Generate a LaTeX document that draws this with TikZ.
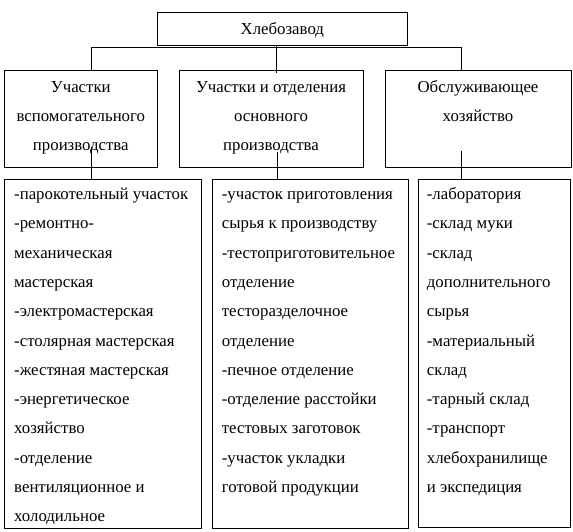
\documentclass[tikz,border=0pt]{standalone}
\usepackage{fontspec}
\setmainfont{Liberation Serif}
\begin{document}
\begin{tikzpicture}[x=1pt,y=-1pt,
  box/.style={draw, line width=1pt, inner sep=0pt, anchor=north west},
  txt/.style={inner sep=0pt, font=\fontsize{16.8}{20}\selectfont},
  conn/.style={line width=1pt}]
\useasboundingbox (0,0) rectangle (573,531);
% boxes
\node[box, minimum width=250pt, minimum height=32.7pt] (top) at (157.3,12.3) {};
\node[box, minimum width=153pt, minimum height=96.7pt] (b1) at (4.3,70) {};
\node[box, minimum width=184.6pt, minimum height=96.7pt] (b2) at (178.7,70) {};
\node[box, minimum width=186pt, minimum height=96.7pt] (b3) at (385,70) {};
\node[box, minimum width=196.7pt, minimum height=348.4pt] (c1) at (4.3,179.3) {};
\node[box, minimum width=196pt, minimum height=348.4pt] (c2) at (211.7,179.3) {};
\node[box, minimum width=151.7pt, minimum height=347.4pt] (c3) at (418.3,179.3) {};
% titles
\node[txt, anchor=base] (t0) at (282.3,34) {Хлебозавод};
\node[txt, anchor=base] (t11) at (80.8,92) {Участки};
\node[txt, anchor=base] (t12) at (80.8,121) {вспомогательного};
\node[txt, anchor=base] (t13) at (80.8,150) {производства};
\node[txt, anchor=base] (t21) at (271,92) {Участки и отделения};
\node[txt, anchor=base] (t22) at (271,121) {основного};
\node[txt, anchor=base] (t23) at (271,150) {производства};
\node[txt, anchor=base] (t31) at (478,92) {Обслуживающее};
\node[txt, anchor=base] (t32) at (478,121) {хозяйство};
% lists
\foreach \t [count=\i from 0] in {{-парокотельный участок},{-ремонтно-},{механическая},{мастерская},{-электромастерская},{-столярная мастерская},{-жестяная мастерская},{-энергетическое},{хозяйство},{-отделение},{вентиляционное и},{холодильное}}
  \node[txt, anchor=base west] (la\i) at (14,{199.5+29.3*\i}) {\t};
\foreach \t [count=\i from 0] in {{-участок приготовления},{сырья к производству},{-тестоприготовительное},{отделение},{тесторазделочное},{отделение},{-печное отделение},{-отделение расстойки},{тестовых заготовок},{-участок укладки},{готовой продукции}}
  \node[txt, anchor=base west] (lb\i) at (221.7,{199.5+29.3*\i}) {\t};
\foreach \t [count=\i from 0] in {{-лаборатория},{-склад муки},{-склад},{дополнительного},{сырья},{-материальный},{склад},{-тарный склад},{-транспорт},{хлебохранилище},{и экспедиция}}
  \node[txt, anchor=base west] (lc\i) at (426.7,{199.5+29.3*\i}) {\t};
% connectors
\coordinate (j1) at (91.3,47.7);
\coordinate (j3) at (461.7,47.7);
\coordinate (jm) at (276.5,73);
\draw[conn] (j1 |- b1.north) -- (j1) -- (j3) -- (j3 |- b3.north);
\draw[conn] (jm |- top.south) -- (jm);
\coordinate (k1) at (91,147);
\coordinate (k2) at (277,152);
\coordinate (k3) at (461,151);
\draw[conn] (k1) -- (k1 |- c1.north);
\draw[conn] (k2) -- (k2 |- c2.north);
\draw[conn] (k3) -- (k3 |- c3.north);
\end{tikzpicture}
\end{document}
